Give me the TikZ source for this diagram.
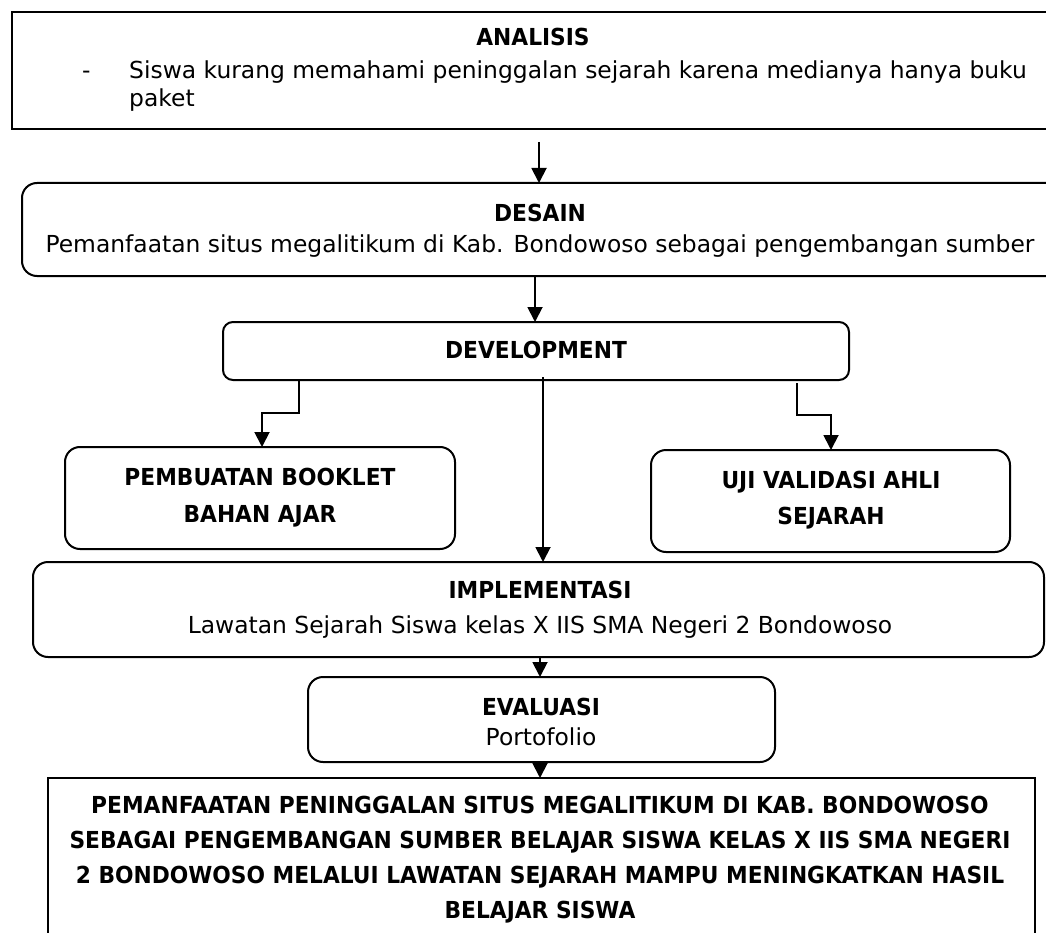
\documentclass[tikz,border=0pt]{standalone}
\usepackage{fontspec}
\setmainfont{DejaVu Sans}[BoldFeatures={FakeStretch=0.93}]
\usetikzlibrary{arrows.meta}
\begin{document}
\begin{tikzpicture}[x=1pt,y=-1pt,
  box/.style={draw,line width=2pt,inner sep=0pt,outer sep=0pt},
  rbox/.style={box,rounded corners=15pt},
  arr/.style={line width=1.9pt,-{Triangle[width=15pt,length=15pt]}},
  t/.style={anchor=base,inner sep=0pt,font=\fontsize{23.4}{28}\selectfont},
  tb/.style={anchor=base,inner sep=0pt,font=\fontsize{23.4}{28}\selectfont\bfseries}]
\useasboundingbox (0,0) rectangle (1046,933);
\clip (0,0) rectangle (1046,933);
% boxes
\node[box,minimum width=1048pt,minimum height=117pt] (analisis) at (536,70.5) {};
\node[rbox,minimum width=1040pt,minimum height=93pt] (desain) at (542,229.5) {};
\node[rbox,rounded corners=10pt,minimum width=626pt,minimum height=58pt] (dev) at (536,351) {};
\node[rbox,minimum width=390pt,minimum height=102pt] (pem) at (260,498) {};
\node[rbox,minimum width=359pt,minimum height=102pt] (uji) at (830.5,501) {};
\node[rbox,minimum width=1011pt,minimum height=95pt] (imp) at (538.5,609.5) {};
\node[rbox,minimum width=467pt,minimum height=85pt] (eva) at (541.5,719.5) {};
\node[box,minimum width=987pt,minimum height=167pt] (fin) at (541.5,861.5) {};
% texts
\node[tb] (tA) at (533,46) {ANALISIS};
\node[t,anchor=base west] (tAd) at (82,79) {-};
\node[t,anchor=base west] (tA1) at (129,79) {Siswa kurang memahami peninggalan sejarah karena medianya hanya buku};
\node[t,anchor=base west] (tA2) at (129,107) {paket};
\node[tb] (tD) at (540,222) {DESAIN};
\node[t] (tD1) at (540,253) {Pemanfaatan situs megalitikum di Kab. Bondowoso sebagai pengembangan sumber};
\node[tb] (tDev) at (536,358) {DEVELOPMENT};
\node[tb] (tP1) at (260,485) {PEMBUATAN BOOKLET};
\node[tb] (tP2) at (260,522) {BAHAN AJAR};
\node[tb] (tU1) at (831,488) {UJI VALIDASI AHLI};
\node[tb] (tU2) at (831,524) {SEJARAH};
\node[tb] (tI) at (540,598) {IMPLEMENTASI};
\node[t] (tI1) at (540,633) {Lawatan Sejarah Siswa kelas X IIS SMA Negeri 2 Bondowoso};
\node[tb] (tE) at (541,715) {EVALUASI};
\node[t] (tE1) at (541,745) {Portofolio};
\node[tb] (tF1) at (540,813) {PEMANFAATAN PENINGGALAN SITUS MEGALITIKUM DI KAB. BONDOWOSO};
\node[tb] (tF2) at (540,848) {SEBAGAI PENGEMBANGAN SUMBER BELAJAR SISWA KELAS X IIS SMA NEGERI};
\node[tb] (tF3) at (540,883) {2 BONDOWOSO MELALUI LAWATAN SEJARAH MAMPU MENINGKATKAN HASIL};
\node[tb] (tF4) at (540,918) {BELAJAR SISWA};
% connectors
\coordinate (a0) at (539,142);
\draw[arr] (a0) -- (a0 |- desain.north);
\draw[arr] (desain.south -| 535,0) -- (dev.north -| 535,0);
\coordinate (l0) at (299,413);
\draw[arr] (dev.south -| l0) -- (l0) -- (262,413) -- (pem.north -| 262,0);
\coordinate (r0) at (797,383);
\draw[arr] (r0) -- (797,415) -- (831,415) -- (uji.north -| 831,0);
\coordinate (c0) at (543,377);
\draw[arr] (c0) -- (imp.north -| c0);
\draw[arr] (imp.south -| 540,0) -- (eva.north -| 540,0);
\draw[arr] (eva.south -| 540,0) -- (fin.north -| 540,0);
\end{tikzpicture}
\end{document}
